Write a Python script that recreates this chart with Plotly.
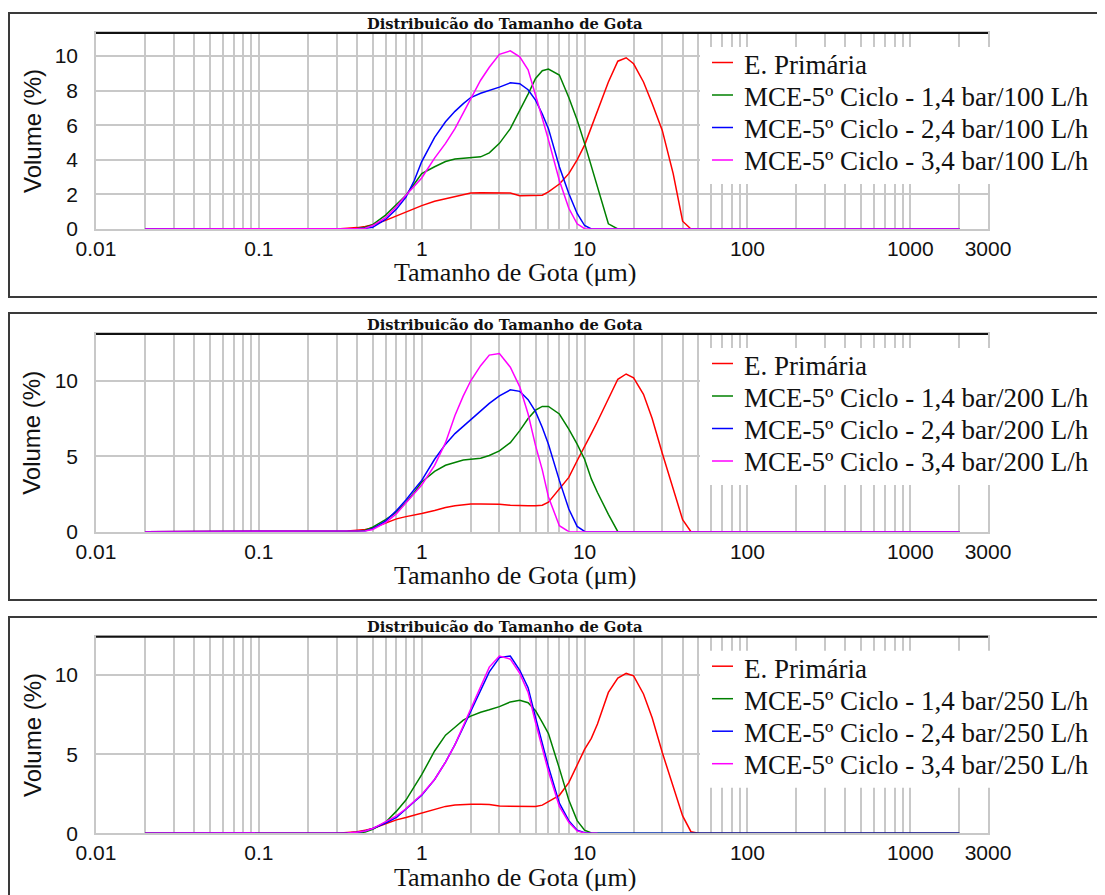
import plotly.graph_objects as go

# ---------------- data ----------------
sizes = [0.02, 0.3, 0.35, 0.4, 0.45, 0.5, 0.6, 0.7, 0.8, 0.9,
         1.0, 1.2, 1.4, 1.6, 1.8, 2.0, 2.3, 2.6, 3.0, 3.5,
         4.0, 4.5, 5.0, 5.5, 6.0, 7.0, 8.0, 9.0, 10, 11,
         12, 14, 16, 18, 20, 23, 26, 30, 35, 40,
         45, 50, 2000]

# Panel 1 (100 L/h)
red1 = [0, 0, 0.05, 0.08, 0.15, 0.25, 0.5, 0.75, 1.0, 1.2,
        1.35, 1.6, 1.75, 1.87, 1.95, 2.08, 2.1, 2.1, 2.1, 2.08,
        1.92, 1.92, 1.92, 1.95, 2.15, 2.6, 3.2, 4.0, 4.85, 5.9,
        6.8, 8.5, 9.7, 9.9, 9.55, 8.5, 7.25, 5.7, 3.2, 0.45,
        0, 0, 0]
green1 = [0, 0, 0, 0.03, 0.1, 0.25, 0.8, 1.4, 1.95, 2.6,
          3.2, 3.6, 3.9, 4.05, 4.1, 4.12, 4.17, 4.4, 4.95, 5.8,
          6.85, 7.8, 8.7, 9.15, 9.25, 8.9, 7.6, 6.3, 4.95, 3.6,
          2.45, 0.3, 0, 0, 0, 0, 0, 0, 0, 0,
          0, 0, 0]
blue1 = [0, 0, 0, 0.02, 0.05, 0.1, 0.55, 1.15, 1.85, 2.8,
         3.9, 5.3, 6.2, 6.8, 7.25, 7.6, 7.85, 8.0, 8.2, 8.45,
         8.4, 8.05, 7.45, 6.65, 5.8, 3.6, 2.05, 0.9, 0.2, 0,
         0, 0, 0, 0, 0, 0, 0, 0, 0, 0,
         0, 0, 0]
pink1 = [0, 0, 0, 0.02, 0.05, 0.2, 0.65, 1.3, 1.95, 2.45,
         2.95, 4.1, 4.95, 5.8, 6.7, 7.5, 8.6, 9.35, 10.1, 10.3,
         9.95, 9.2, 7.8, 6.4, 5.15, 2.8, 1.2, 0.3, 0.02, 0,
         0, 0, 0, 0, 0, 0, 0, 0, 0, 0,
         0, 0, 0]

# Panel 2 (200 L/h)
red2 = [0, 0, 0.05, 0.1, 0.15, 0.25, 0.55, 0.85, 1.0, 1.1,
        1.2, 1.4, 1.6, 1.72, 1.8, 1.83, 1.83, 1.83, 1.82, 1.75,
        1.72, 1.72, 1.72, 1.75, 1.95, 2.8, 3.6, 4.7, 5.6, 6.5,
        7.3, 8.85, 10.1, 10.45, 10.2, 9.1, 7.5, 5.2, 2.8, 0.8,
        0, 0, 0]
green2 = [0, 0, 0, 0.02, 0.1, 0.3, 0.8, 1.3, 1.95, 2.6,
          3.3, 4.0, 4.4, 4.6, 4.75, 4.8, 4.87, 5.05, 5.35, 5.9,
          6.7, 7.5, 8.05, 8.3, 8.3, 7.8, 6.8, 5.8, 4.8, 3.5,
          2.6, 1.15, 0, 0, 0, 0, 0, 0, 0, 0,
          0, 0, 0]
blue2 = [0, 0, 0, 0.01, 0.05, 0.2, 0.7, 1.4, 2.1, 2.8,
         3.4, 4.8, 5.8, 6.5, 7.0, 7.45, 8.0, 8.5, 9.0, 9.4,
         9.3, 8.75, 7.95, 6.9, 5.8, 3.4, 1.5, 0.35, 0.02, 0,
         0, 0, 0, 0, 0, 0, 0, 0, 0, 0,
         0, 0, 0]
pink2 = [0, 0, 0, 0.01, 0.05, 0.15, 0.6, 1.2, 1.9, 2.5,
         3.1, 4.4, 5.9, 7.7, 9.0, 10.0, 11.0, 11.7, 11.8, 10.9,
         9.6, 7.8, 5.7, 4.1, 2.3, 0.4, 0, 0, 0, 0,
         0, 0, 0, 0, 0, 0, 0, 0, 0, 0,
         0, 0, 0]

# Panel 3 (250 L/h)
red3 = [0, 0, 0.05, 0.1, 0.2, 0.3, 0.6, 0.85, 1.0, 1.15,
        1.3, 1.55, 1.7, 1.78, 1.82, 1.83, 1.83, 1.82, 1.72, 1.7,
        1.7, 1.7, 1.7, 1.78, 2.0, 2.4, 3.2, 4.3, 5.3, 6.0,
        6.9, 8.9, 9.8, 10.1, 9.95, 8.8, 7.3, 5.1, 3.0, 1.1,
        0.1, 0, 0]
green3 = [0, 0, 0, 0.02, 0.08, 0.25, 0.7, 1.4, 2.1, 2.9,
          3.7, 5.2, 6.2, 6.7, 7.15, 7.4, 7.65, 7.8, 8.0, 8.3,
          8.4, 8.25, 7.75, 7.0, 6.3, 4.1, 2.1, 0.8, 0.2, 0.02,
          0, 0, 0, 0, 0, 0, 0, 0, 0, 0,
          0, 0, 0]
blue3 = [0, 0, 0.02, 0.07, 0.15, 0.3, 0.65, 1.0, 1.5, 2.0,
         2.4, 3.4, 4.5, 5.6, 6.7, 7.7, 9.0, 10.2, 11.1, 11.2,
         10.3, 9.2, 7.3, 5.6, 4.2, 1.9, 0.8, 0.2, 0.03, 0,
         0, 0, 0, 0, 0, 0, 0, 0, 0, 0,
         0, 0, 0]
pink3 = [0, 0, 0.02, 0.07, 0.15, 0.3, 0.75, 1.1, 1.55, 2.0,
         2.45, 3.4, 4.5, 5.6, 6.8, 7.9, 9.3, 10.5, 11.2, 11.0,
         10.1, 8.9, 7.0, 5.3, 3.9, 1.7, 0.7, 0.15, 0.02, 0,
         0, None, None, None, None, None, None, None, None, None,
         None, None, None]

flows = ["100", "200", "250"]
series_names = ["E. Primária",
                "MCE-5º Ciclo - 1,4 bar/{} L/h",
                "MCE-5º Ciclo - 2,4 bar/{} L/h",
                "MCE-5º Ciclo - 3,4 bar/{} L/h"]
panels = [[red1, green1, blue1, pink1],
          [red2, green2, blue2, pink2],
          [red3, green3, blue3, pink3]]
y_max = [11.33, 13.1, 12.42]
y_ticks = [[0, 2, 4, 6, 8, 10], [0, 5, 10], [0, 5, 10]]
x_ticks = [0.01, 0.1, 1, 10, 100, 1000, 3000]
x_ticktext = ["0.01", "0.1", "1", "10", "100", "1000", "3000"]
title_text = "Distribuicão do Tamanho de Gota"
x_title = "Tamanho de Gota (μm)"
y_title = "Volume (%)"

for p in panels:
    for s in p:
        assert len(s) == len(sizes)

# ---------------- layout helpers ----------------
W, H = 1105, 895
OFF = 8  # page body margin shifts the figure by this much
colors = ["#FF0000", "#008000", "#0000FF", "#FF00FF"]
GRID = "#C8C8C8"
LEFT, RIGHT = 96, 988
tops = [33, 334, 636.7]
bottoms = [229, 531.7, 833.3]
frames = [(13, 297), (313, 600), (617, 910)]


def fx(x):
    return (x - OFF) / W


def fy(y):
    return 1 - (y - OFF) / H


minor_vals = [m * 10 ** e for e in range(-2, 3) for m in range(2, 10)] + [2000]
all_xvals = x_ticks + minor_vals
all_xtext = x_ticktext + [""] * len(minor_vals)

fig = go.Figure()
shapes = []
annotations = []

for i in range(3):
    xa = "x" if i == 0 else f"x{i+1}"
    ya = "y" if i == 0 else f"y{i+1}"
    for j, s in enumerate(panels[i]):
        fig.add_trace(go.Scatter(
            x=sizes, y=s, mode="lines",
            line=dict(color=colors[j], width=1.5),
            xaxis=xa, yaxis=ya, showlegend=False,
            name=series_names[j].format(flows[i]),
        ))
    top, bot = tops[i], bottoms[i]
    xkey = "xaxis" if i == 0 else f"xaxis{i+1}"
    ykey = "yaxis" if i == 0 else f"yaxis{i+1}"
    fig.update_layout(**{
        xkey: dict(
            type="log", domain=[fx(LEFT), fx(RIGHT)], anchor=ya,
            range=[-2, 3.47712], tickmode="array",
            tickvals=all_xvals, ticktext=all_xtext,
            showgrid=True, gridcolor=GRID, gridwidth=1.5,
            showline=True, linecolor=GRID, linewidth=1.5, mirror=True,
            zeroline=False, ticks="", automargin=False,
            tickfont=dict(family="Liberation Sans, Arial", size=21, color="#111"),
        ),
        ykey: dict(
            domain=[fy(bot), fy(top)], anchor=xa,
            range=[0, y_max[i]], tickmode="array", tickvals=y_ticks[i],
            showgrid=True, gridcolor=GRID, gridwidth=1.5,
            showline=True, linecolor=GRID, linewidth=1.5, mirror=True,
            zeroline=False, ticks="", ticklabelstandoff=12, automargin=False,
            tickfont=dict(family="Liberation Sans, Arial", size=21, color="#111"),
        ),
    })
    # outer panel frame
    f0, f1 = frames[i]
    shapes.append(dict(type="rect", xref="paper", yref="paper",
                       x0=fx(9), x1=fx(1125), y0=fy(f1), y1=fy(f0),
                       line=dict(color="#3a3a3a", width=2), layer="below"))
    # black top line of the plot area
    shapes.append(dict(type="line", xref="paper", yref="paper",
                       x0=fx(LEFT), x1=fx(RIGHT), y0=fy(top), y1=fy(top),
                       line=dict(color="#111", width=2), layer="above"))
    # legend background
    shapes.append(dict(type="rect", xref="paper", yref="paper",
                       x0=fx(700), x1=fx(1100), y0=fy(top + 151), y1=fy(top + 14),
                       fillcolor="white", line=dict(width=0), layer="above"))
    # legend items
    for j in range(4):
        ly = top + [29.5, 62, 94.5, 127][j]
        shapes.append(dict(type="line", xref="paper", yref="paper",
                           x0=fx(712), x1=fx(733), y0=fy(ly), y1=fy(ly),
                           line=dict(color=colors[j], width=1.5), layer="above"))
        annotations.append(dict(
            text=series_names[j].format(flows[i]), xref="paper", yref="paper",
            x=fx(742), y=fy(top + [32, 64, 96, 128][j]), xanchor="left", yanchor="middle",
            showarrow=False,
            font=dict(family="Liberation Serif, Times New Roman", size=27, color="#111")))
    # chart title
    annotations.append(dict(
        text="<b>" + title_text + "</b>", xref="paper", yref="paper",
        x=fx(505), y=fy(top - 10), xanchor="center", yanchor="middle", showarrow=False,
        font=dict(family="DejaVu Serif", size=14.7, color="#111")))
    # x title
    annotations.append(dict(
        text=x_title, xref="paper", yref="paper",
        x=fx(515), y=fy(bot + 44), xanchor="center", yanchor="middle", showarrow=False,
        font=dict(family="Liberation Serif, Times New Roman", size=26, color="#111")))
    # y title
    annotations.append(dict(
        text=y_title, xref="paper", yref="paper", textangle=-90,
        x=fx(32), y=fy((top + bot) / 2), xanchor="center", yanchor="middle", showarrow=False,
        font=dict(family="Liberation Sans, Arial", size=24, color="#111")))

fig.update_layout(
    width=W, height=H, autosize=False,
    margin=dict(l=0, r=0, t=0, b=0, pad=0, autoexpand=False),
    paper_bgcolor="white", plot_bgcolor="white",
    showlegend=False,
    shapes=shapes, annotations=annotations,
)

fig.write_html("out.html")
